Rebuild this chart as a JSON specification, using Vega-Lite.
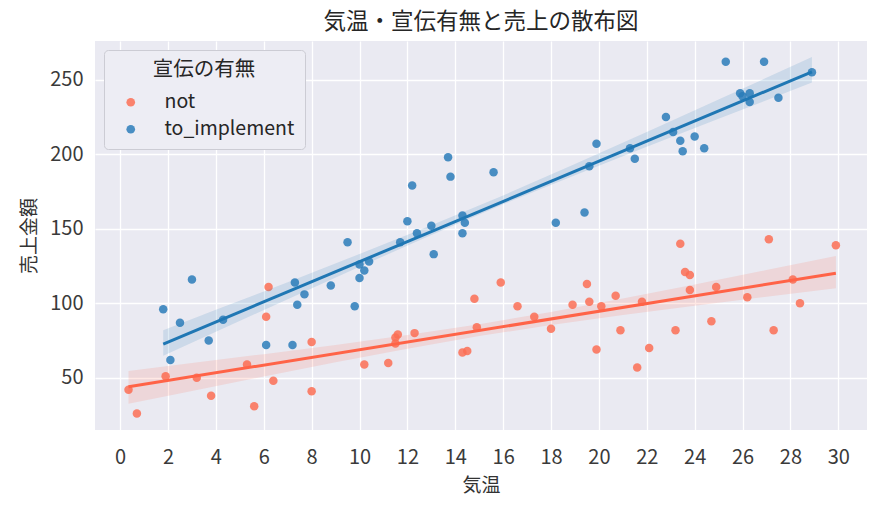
{
  "$schema": "https://vega.github.io/schema/vega-lite/v6.json",
  "width": 772,
  "height": 389,
  "autosize": {"type": "none"},
  "padding": {"left": 95, "top": 41, "right": 12, "bottom": 76},
  "background": "white",
  "title": {"text": "気温・宣伝有無と売上の散布図", "fontSize": 22.5, "font": "Noto Sans CJK JP", "fontWeight": "normal", "color": "#262626", "offset": 8},
  "config": {
    "view": {"fill": "#EAEAF2", "stroke": null},
    "axis": {"domain": false, "ticks": false, "grid": true, "gridColor": "#FFFFFF", "gridWidth": 1.3, "labelFont": "Noto Sans CJK JP", "labelFontSize": 20, "labelColor": "#3A3A3A", "titleFont": "Noto Sans CJK JP", "titleFontSize": 19, "titleFontWeight": "normal", "titleColor": "#333333"},
    "legend": {"labelFont": "Noto Sans CJK JP", "titleFont": "Noto Sans CJK JP"}
  },
  "datasets": {
    "pts": [
      {"temp": 0.35, "sales": 42, "ad": "not"},
      {"temp": 0.7, "sales": 26, "ad": "not"},
      {"temp": 1.9, "sales": 51, "ad": "not"},
      {"temp": 3.2, "sales": 50, "ad": "not"},
      {"temp": 3.8, "sales": 38, "ad": "not"},
      {"temp": 5.3, "sales": 59, "ad": "not"},
      {"temp": 5.6, "sales": 31, "ad": "not"},
      {"temp": 6.1, "sales": 91, "ad": "not"},
      {"temp": 6.2, "sales": 111, "ad": "not"},
      {"temp": 6.4, "sales": 48, "ad": "not"},
      {"temp": 8.0, "sales": 74, "ad": "not"},
      {"temp": 8.0, "sales": 41, "ad": "not"},
      {"temp": 10.2, "sales": 59, "ad": "not"},
      {"temp": 11.2, "sales": 60, "ad": "not"},
      {"temp": 11.5, "sales": 73, "ad": "not"},
      {"temp": 11.5, "sales": 77, "ad": "not"},
      {"temp": 11.6, "sales": 79, "ad": "not"},
      {"temp": 12.3, "sales": 80, "ad": "not"},
      {"temp": 14.3, "sales": 67, "ad": "not"},
      {"temp": 14.5, "sales": 68, "ad": "not"},
      {"temp": 14.8, "sales": 103, "ad": "not"},
      {"temp": 14.9, "sales": 84, "ad": "not"},
      {"temp": 15.9, "sales": 114, "ad": "not"},
      {"temp": 16.6, "sales": 98, "ad": "not"},
      {"temp": 17.3, "sales": 91, "ad": "not"},
      {"temp": 18.0, "sales": 83, "ad": "not"},
      {"temp": 18.9, "sales": 99, "ad": "not"},
      {"temp": 19.5, "sales": 113, "ad": "not"},
      {"temp": 19.6, "sales": 101, "ad": "not"},
      {"temp": 19.9, "sales": 69, "ad": "not"},
      {"temp": 20.1, "sales": 98, "ad": "not"},
      {"temp": 20.7, "sales": 105, "ad": "not"},
      {"temp": 20.9, "sales": 82, "ad": "not"},
      {"temp": 21.6, "sales": 57, "ad": "not"},
      {"temp": 21.8, "sales": 101, "ad": "not"},
      {"temp": 22.1, "sales": 70, "ad": "not"},
      {"temp": 23.2, "sales": 82, "ad": "not"},
      {"temp": 23.4, "sales": 140, "ad": "not"},
      {"temp": 23.6, "sales": 121, "ad": "not"},
      {"temp": 23.8, "sales": 119, "ad": "not"},
      {"temp": 23.8, "sales": 109, "ad": "not"},
      {"temp": 24.7, "sales": 88, "ad": "not"},
      {"temp": 24.9, "sales": 111, "ad": "not"},
      {"temp": 26.2, "sales": 104, "ad": "not"},
      {"temp": 27.1, "sales": 143, "ad": "not"},
      {"temp": 27.3, "sales": 82, "ad": "not"},
      {"temp": 28.1, "sales": 116, "ad": "not"},
      {"temp": 28.4, "sales": 100, "ad": "not"},
      {"temp": 29.9, "sales": 139, "ad": "not"},
      {"temp": 1.8, "sales": 96, "ad": "to_implement"},
      {"temp": 2.1, "sales": 62, "ad": "to_implement"},
      {"temp": 2.5, "sales": 87, "ad": "to_implement"},
      {"temp": 3.0, "sales": 116, "ad": "to_implement"},
      {"temp": 3.7, "sales": 75, "ad": "to_implement"},
      {"temp": 4.3, "sales": 89, "ad": "to_implement"},
      {"temp": 6.1, "sales": 72, "ad": "to_implement"},
      {"temp": 7.2, "sales": 72, "ad": "to_implement"},
      {"temp": 7.3, "sales": 114, "ad": "to_implement"},
      {"temp": 7.4, "sales": 99, "ad": "to_implement"},
      {"temp": 7.7, "sales": 106, "ad": "to_implement"},
      {"temp": 8.8, "sales": 112, "ad": "to_implement"},
      {"temp": 9.5, "sales": 141, "ad": "to_implement"},
      {"temp": 9.8, "sales": 98, "ad": "to_implement"},
      {"temp": 10.0, "sales": 117, "ad": "to_implement"},
      {"temp": 10.0, "sales": 126, "ad": "to_implement"},
      {"temp": 10.2, "sales": 122, "ad": "to_implement"},
      {"temp": 10.4, "sales": 128, "ad": "to_implement"},
      {"temp": 11.7, "sales": 141, "ad": "to_implement"},
      {"temp": 12.0, "sales": 155, "ad": "to_implement"},
      {"temp": 12.2, "sales": 179, "ad": "to_implement"},
      {"temp": 12.4, "sales": 147, "ad": "to_implement"},
      {"temp": 13.0, "sales": 152, "ad": "to_implement"},
      {"temp": 13.1, "sales": 133, "ad": "to_implement"},
      {"temp": 13.7, "sales": 198, "ad": "to_implement"},
      {"temp": 13.8, "sales": 185, "ad": "to_implement"},
      {"temp": 14.3, "sales": 147, "ad": "to_implement"},
      {"temp": 14.3, "sales": 159, "ad": "to_implement"},
      {"temp": 14.4, "sales": 154, "ad": "to_implement"},
      {"temp": 15.6, "sales": 188, "ad": "to_implement"},
      {"temp": 18.2, "sales": 154, "ad": "to_implement"},
      {"temp": 19.4, "sales": 161, "ad": "to_implement"},
      {"temp": 19.6, "sales": 192, "ad": "to_implement"},
      {"temp": 19.9, "sales": 207, "ad": "to_implement"},
      {"temp": 21.3, "sales": 204, "ad": "to_implement"},
      {"temp": 21.5, "sales": 197, "ad": "to_implement"},
      {"temp": 22.8, "sales": 225, "ad": "to_implement"},
      {"temp": 23.1, "sales": 215, "ad": "to_implement"},
      {"temp": 23.4, "sales": 209, "ad": "to_implement"},
      {"temp": 23.5, "sales": 202, "ad": "to_implement"},
      {"temp": 24.0, "sales": 212, "ad": "to_implement"},
      {"temp": 24.4, "sales": 204, "ad": "to_implement"},
      {"temp": 25.3, "sales": 262, "ad": "to_implement"},
      {"temp": 25.9, "sales": 241, "ad": "to_implement"},
      {"temp": 26.0, "sales": 239, "ad": "to_implement"},
      {"temp": 26.3, "sales": 241, "ad": "to_implement"},
      {"temp": 26.3, "sales": 235, "ad": "to_implement"},
      {"temp": 26.9, "sales": 262, "ad": "to_implement"},
      {"temp": 27.5, "sales": 238, "ad": "to_implement"},
      {"temp": 28.9, "sales": 255, "ad": "to_implement"}
    ],
    "bands": [
      {"temp": 0.35, "lo": 32.6, "hi": 54.6, "ad": "not"},
      {"temp": 3, "lo": 41.2, "hi": 59.9, "ad": "not"},
      {"temp": 6, "lo": 50.9, "hi": 65.9, "ad": "not"},
      {"temp": 9, "lo": 60.4, "hi": 72.1, "ad": "not"},
      {"temp": 12, "lo": 69.5, "hi": 78.7, "ad": "not"},
      {"temp": 15, "lo": 78.0, "hi": 86.0, "ad": "not"},
      {"temp": 18, "lo": 85.4, "hi": 94.2, "ad": "not"},
      {"temp": 21, "lo": 92.1, "hi": 103.2, "ad": "not"},
      {"temp": 24, "lo": 98.4, "hi": 112.7, "ad": "not"},
      {"temp": 27, "lo": 104.4, "hi": 122.3, "ad": "not"},
      {"temp": 29.9, "lo": 110.1, "hi": 131.7, "ad": "not"},
      {"temp": 1.8, "lo": 64.9, "hi": 81.9, "ad": "to_implement"},
      {"temp": 4, "lo": 81.0, "hi": 95.6, "ad": "to_implement"},
      {"temp": 7, "lo": 102.8, "hi": 114.2, "ad": "to_implement"},
      {"temp": 10, "lo": 124.5, "hi": 133.1, "ad": "to_implement"},
      {"temp": 13, "lo": 145.8, "hi": 152.4, "ad": "to_implement"},
      {"temp": 16, "lo": 166.4, "hi": 172.4, "ad": "to_implement"},
      {"temp": 19, "lo": 186.0, "hi": 193.4, "ad": "to_implement"},
      {"temp": 22, "lo": 205.0, "hi": 215.0, "ad": "to_implement"},
      {"temp": 25, "lo": 223.8, "hi": 236.7, "ad": "to_implement"},
      {"temp": 28.9, "lo": 248.1, "hi": 265.2, "ad": "to_implement"}
    ]
  },
  "encoding": {
    "x": {"field": "temp", "type": "quantitative", "title": "気温",
      "scale": {"domain": [-1.05, 31.2], "nice": false, "zero": false},
      "axis": {"values": [0,2,4,6,8,10,12,14,16,18,20,22,24,26,28,30], "labelPadding": 17, "titlePadding": 9}},
    "y": {"field": "sales", "type": "quantitative", "title": "売上金額",
      "scale": {"domain": [15, 276], "nice": false, "zero": false},
      "axis": {"values": [50,100,150,200,250], "labelPadding": 12, "titlePadding": 10}}
  },
  "layer": [
    {
      "data": {"name": "pts"},
      "mark": {"type": "circle", "size": 72, "opacity": 0.85},
      "encoding": {
        "color": {"field": "ad", "type": "nominal",
          "scale": {"domain": ["not", "to_implement"], "range": ["#FB6F55", "#2B7DBA"]},
          "legend": {"title": "宣伝の有無", "orient": "top-left", "offset": 9,
            "fillColor": "#EDEDF4", "strokeColor": "#CCCCD4", "cornerRadius": 4, "padding": 10,
            "titleFontSize": 20.5, "titleFontWeight": "normal", "titleColor": "#262626", "titleAnchor": "middle", "titlePadding": 12,
            "labelFontSize": 19.5, "labelColor": "#262626", "labelOffset": 24, "rowPadding": 6,
            "symbolType": "circle", "symbolSize": 75, "symbolOffset": 7, "symbolOpacity": 0.85, "symbolStrokeWidth": 0}}
      }
    },
    {
      "data": {"name": "bands"},
      "mark": {"type": "area", "opacity": 0.15},
      "encoding": {
        "y": {"field": "lo", "type": "quantitative"},
        "y2": {"field": "hi"},
        "fill": {"field": "ad", "type": "nominal",
          "scale": {"domain": ["not", "to_implement"], "range": ["#FF6347", "#1F77B4"]}, "legend": null}
      }
    },
    {
      "data": {"name": "pts"},
      "transform": [{"regression": "sales", "on": "temp", "groupby": ["ad"]}],
      "mark": {"type": "line", "strokeWidth": 3},
      "encoding": {
        "stroke": {"field": "ad", "type": "nominal",
          "scale": {"domain": ["not", "to_implement"], "range": ["#FF6347", "#1F77B4"]}, "legend": null}
      }
    }
  ]
}
